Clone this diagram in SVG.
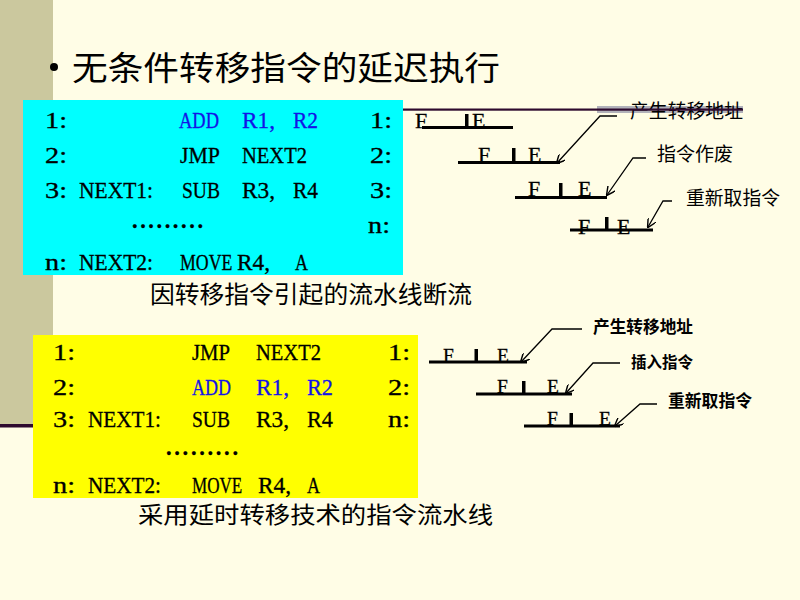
<svg xmlns="http://www.w3.org/2000/svg" width="800" height="600" viewBox="0 0 800 600">
<defs>
<style>
.s{font-family:"Liberation Serif","Times New Roman",serif;font-size:22.5px;fill:#000;stroke:#000;stroke-width:0.3}
.bl{fill:#1414e6;stroke:#1414e6}
.fe{font-family:"Liberation Serif","Times New Roman",serif;font-size:22px;fill:#000;stroke:#000;stroke-width:0.3}
.fe2{font-family:"Liberation Serif","Times New Roman",serif;font-size:19.5px;fill:#000;stroke:#000;stroke-width:0.3}
.cjk{font-family:"Liberation Sans","Noto Sans CJK SC",sans-serif;fill:#000}
.bar{stroke:#000;stroke-width:3;fill:none}
.tick{fill:#000}
.lead{stroke:#000;stroke-width:1.3;fill:none}
</style>
<marker id="ah" viewBox="0 0 10 10" refX="9" refY="5" markerWidth="9" markerHeight="9" markerUnits="userSpaceOnUse" orient="auto">
<path d="M0,0 L10,5 L0,10" fill="none" stroke="#000" stroke-width="1.6"/>
</marker>
</defs>
<rect x="0" y="0" width="800" height="600" fill="#fffde6"/>
<rect x="0" y="0" width="53" height="425" fill="#cbc89e"/>
<rect x="0" y="424" width="40" height="3.5" fill="#2e0a2e"/>

<g id="title">
<circle cx="54" cy="67" r="4" fill="#000"/>
<text class="cjk" x="72" y="80" font-size="33" textLength="428" lengthAdjust="spacingAndGlyphs">无条件转移指令的延迟执行</text>
</g>

<g id="code-box-1">
<rect x="23" y="100" width="380" height="175" fill="#00ffff"/>
<text class="s" x="45" y="128" textLength="22" lengthAdjust="spacingAndGlyphs">1:</text>
<text class="s bl" x="179" y="128" textLength="40" lengthAdjust="spacingAndGlyphs">ADD</text>
<text class="s bl" x="242" y="128" textLength="33" lengthAdjust="spacingAndGlyphs">R1,</text>
<text class="s bl" x="293" y="128" textLength="25" lengthAdjust="spacingAndGlyphs">R2</text>
<text class="s" x="370" y="128" textLength="22" lengthAdjust="spacingAndGlyphs">1:</text>
<text class="s" x="45" y="163" textLength="22" lengthAdjust="spacingAndGlyphs">2:</text>
<text class="s" x="180" y="163" textLength="40" lengthAdjust="spacingAndGlyphs">JMP</text>
<text class="s" x="242" y="163" textLength="65" lengthAdjust="spacingAndGlyphs">NEXT2</text>
<text class="s" x="370" y="163" textLength="22" lengthAdjust="spacingAndGlyphs">2:</text>
<text class="s" x="45" y="198" textLength="22" lengthAdjust="spacingAndGlyphs">3:</text>
<text class="s" x="79" y="198" textLength="74" lengthAdjust="spacingAndGlyphs">NEXT1:</text>
<text class="s" x="182" y="198" textLength="38" lengthAdjust="spacingAndGlyphs">SUB</text>
<text class="s" x="242" y="198" textLength="33" lengthAdjust="spacingAndGlyphs">R3,</text>
<text class="s" x="293" y="198" textLength="25" lengthAdjust="spacingAndGlyphs">R4</text>
<text class="s" x="370" y="198" textLength="22" lengthAdjust="spacingAndGlyphs">3:</text>
<text class="s" x="132" y="228" font-weight="bold" textLength="71" lengthAdjust="spacing">.........</text>
<text class="s" x="368" y="233" textLength="22" lengthAdjust="spacingAndGlyphs">n:</text>
<text class="s" x="45" y="270" textLength="22" lengthAdjust="spacingAndGlyphs">n:</text>
<text class="s" x="79" y="270" textLength="74" lengthAdjust="spacingAndGlyphs">NEXT2:</text>
<text class="s" transform="translate(180,270) scale(0.79,1)" x="0" y="0">MOVE</text>
<text class="s" x="237" y="270" textLength="33" lengthAdjust="spacingAndGlyphs">R4,</text>
<text class="s" x="295" y="270" textLength="13" lengthAdjust="spacingAndGlyphs">A</text>
</g>

<g id="caption-1">
<text class="cjk" x="150" y="303" font-size="24" textLength="322" lengthAdjust="spacingAndGlyphs">因转移指令引起的流水线断流</text>
</g>

<g id="code-box-2">
<rect x="33" y="335" width="385" height="163" fill="#ffff00"/>
<text class="s" x="53" y="360" textLength="22" lengthAdjust="spacingAndGlyphs">1:</text>
<text class="s" x="192" y="360" textLength="38" lengthAdjust="spacingAndGlyphs">JMP</text>
<text class="s" x="256" y="360" textLength="65" lengthAdjust="spacingAndGlyphs">NEXT2</text>
<text class="s" x="388" y="360" textLength="22" lengthAdjust="spacingAndGlyphs">1:</text>
<text class="s" x="53" y="395" textLength="22" lengthAdjust="spacingAndGlyphs">2:</text>
<text class="s bl" x="192" y="395" textLength="39" lengthAdjust="spacingAndGlyphs">ADD</text>
<text class="s bl" x="256" y="395" textLength="33" lengthAdjust="spacingAndGlyphs">R1,</text>
<text class="s bl" x="307" y="395" textLength="26" lengthAdjust="spacingAndGlyphs">R2</text>
<text class="s" x="388" y="395" textLength="22" lengthAdjust="spacingAndGlyphs">2:</text>
<text class="s" x="53" y="427" textLength="22" lengthAdjust="spacingAndGlyphs">3:</text>
<text class="s" x="88" y="427" textLength="73" lengthAdjust="spacingAndGlyphs">NEXT1:</text>
<text class="s" x="192" y="427" textLength="38" lengthAdjust="spacingAndGlyphs">SUB</text>
<text class="s" x="256" y="427" textLength="33" lengthAdjust="spacingAndGlyphs">R3,</text>
<text class="s" x="307" y="427" textLength="26" lengthAdjust="spacingAndGlyphs">R4</text>
<text class="s" x="388" y="427" textLength="22" lengthAdjust="spacingAndGlyphs">n:</text>
<text class="s" x="166" y="455" font-weight="bold" textLength="72" lengthAdjust="spacing">.........</text>
<text class="s" x="53" y="493" textLength="22" lengthAdjust="spacingAndGlyphs">n:</text>
<text class="s" x="88" y="493" textLength="73" lengthAdjust="spacingAndGlyphs">NEXT2:</text>
<text class="s" transform="translate(192,493) scale(0.76,1)" x="0" y="0">MOVE</text>
<text class="s" x="258" y="493" textLength="33" lengthAdjust="spacingAndGlyphs">R4,</text>
<text class="s" x="307" y="493" textLength="13" lengthAdjust="spacingAndGlyphs">A</text>
</g>

<g id="caption-2">
<text class="cjk" x="138" y="523" font-size="23" textLength="355" lengthAdjust="spacingAndGlyphs">采用延时转移技术的指令流水线</text>
</g>

<g id="pipe1-row1">
<text class="fe" x="415" y="128">F</text>
<text class="fe" x="472" y="128">E</text>
<line class="bar" x1="422" y1="127.5" x2="513" y2="127.5"/>
<rect class="tick" x="465" y="114" width="3.5" height="13"/>
</g>
<g id="pipe1-row2">
<text class="fe" x="478" y="162">F</text>
<text class="fe" x="528" y="162">E</text>
<line class="bar" x1="458" y1="162.5" x2="560" y2="162.5"/>
<rect class="tick" x="512" y="148" width="3.5" height="14"/>
</g>
<g id="pipe1-row3">
<text class="fe" x="528" y="196">F</text>
<text class="fe" x="578" y="196">E</text>
<line class="bar" x1="515" y1="197.5" x2="607" y2="197.5"/>
<rect class="tick" x="559" y="183" width="3.5" height="14"/>
</g>
<g id="pipe1-row4">
<text class="fe" x="578" y="234">F</text>
<text class="fe" x="617" y="234">E</text>
<line class="bar" x1="570" y1="230" x2="653" y2="230"/>
<rect class="tick" x="605" y="217" width="3.5" height="13"/>
</g>

<g id="label-1a">
<rect x="597" y="106" width="146" height="7" fill="#b2b2ba"/>
<text class="cjk" x="630" y="118" font-size="19" textLength="113" lengthAdjust="spacingAndGlyphs">产生转移地址</text>
</g>
<rect x="403" y="108.5" width="340" height="2.2" fill="#2e0a2e"/>
<g id="label-1b">
<text class="cjk" x="657" y="161" font-size="19" textLength="76" lengthAdjust="spacingAndGlyphs">指令作废</text>
</g>
<g id="label-1c">
<text class="cjk" x="686" y="205" font-size="19" textLength="94" lengthAdjust="spacingAndGlyphs">重新取指令</text>
</g>

<g id="pipe2-row1">
<text class="fe2" x="443" y="362">F</text>
<text class="fe2" x="497" y="362">E</text>
<line class="bar" x1="429" y1="362" x2="527" y2="362"/>
<rect class="tick" x="474.5" y="349" width="3.5" height="13"/>
</g>
<g id="pipe2-row2">
<text class="fe2" x="497" y="393">F</text>
<text class="fe2" x="547" y="393">E</text>
<line class="bar" x1="476" y1="394" x2="572" y2="394"/>
<rect class="tick" x="522" y="381" width="3.5" height="13"/>
</g>
<g id="pipe2-row3">
<text class="fe2" x="547" y="425">F</text>
<text class="fe2" x="599" y="425">E</text>
<line class="bar" x1="524" y1="426" x2="620" y2="426"/>
<rect class="tick" x="569.5" y="413" width="3.5" height="13"/>
</g>

<g id="label-2a">
<text class="cjk" x="593" y="333" font-size="17" font-weight="bold" textLength="100" lengthAdjust="spacingAndGlyphs">产生转移地址</text>
</g>
<g id="label-2b">
<text class="cjk" x="631" y="368" font-size="16" font-weight="bold" textLength="62" lengthAdjust="spacingAndGlyphs">插入指令</text>
</g>
<g id="label-2c">
<text class="cjk" x="668" y="407" font-size="17" font-weight="bold" textLength="84" lengthAdjust="spacingAndGlyphs">重新取指令</text>
</g>

<g id="connectors">
<polyline class="lead" points="617,116 600,116 557,163" marker-end="url(#ah)"/>
<polyline class="lead" points="646,158 633,158 607,195" marker-end="url(#ah)"/>
<polyline class="lead" points="672,201 663,201 648,227" marker-end="url(#ah)"/>
<polyline class="lead" points="582,329 552,329 521,362" marker-end="url(#ah)"/>
<polyline class="lead" points="620,363 593,363 566,393" marker-end="url(#ah)"/>
<polyline class="lead" points="657,404 640,404 615,426" marker-end="url(#ah)"/>
</g>
</svg>
